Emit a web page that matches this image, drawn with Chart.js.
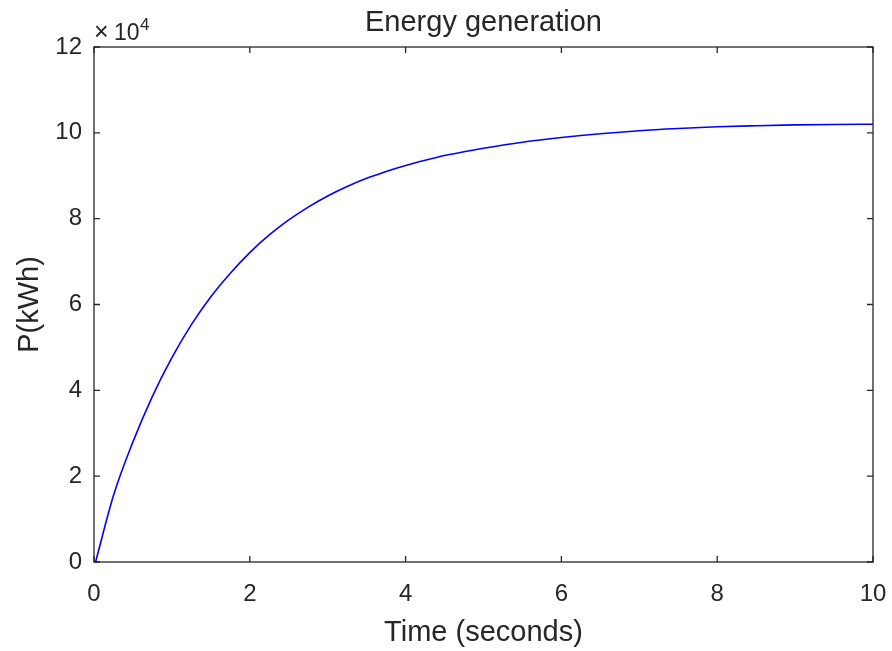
<!DOCTYPE html>
<html>
<head>
<meta charset="utf-8">
<script src="https://cdn.jsdelivr.net/npm/chart.js@4"></script>
<style>
  html, body { margin: 0; padding: 0; background: #fff; }
  #wrap { width: 892px; height: 651px; }
</style>
</head>
<body>
<div id="wrap"><canvas id="grafico" width="892" height="651"></canvas></div>
<script>
// tempo (s) e energia (kWh)
var tempo = [0.02, 0.25, 0.5, 0.75, 1.0, 1.25, 1.5, 1.75, 2.0, 2.25, 2.5, 2.75, 3.0, 3.25, 3.5, 3.75,
             4.0, 4.25, 4.5, 4.75, 5.0, 5.5, 6.0, 6.5, 7.0, 7.5, 8.0, 8.5, 9.0, 9.5, 10.0];
var energia = [0, 15500, 28000, 38600, 47600, 55300, 61800, 67300, 72100, 76200, 79700, 82700, 85300,
               87500, 89400, 91000, 92400, 93600, 94700, 95600, 96400, 97800, 98900, 99800, 100500,
               101000, 101400, 101650, 101850, 101950, 102000];
var ticksX = [0, 2, 4, 6, 8, 10];
var ticksY = [0, 20000, 40000, 60000, 80000, 100000, 120000];
var titulo = 'Energy generation';

var corEixo = '#262626';
var fonte = 'Arial, "Liberation Sans", Helvetica, sans-serif';

var pontos = tempo.map(function (t, i) {
    return { x: t, y: energia[i] };
});

// caixa dos eixos com marcas para dentro (estilo MATLAB), título e o "x10^4"
var caixaPlugin = {
    id: 'caixa',
    afterDraw: function (chart) {
        var ctx = chart.ctx;
        var a = chart.chartArea;
        var sx = chart.scales.x, sy = chart.scales.y;
        ctx.save();
        ctx.strokeStyle = corEixo;
        ctx.lineWidth = 1.3;
        ctx.strokeRect(a.left, a.top, a.right - a.left, a.bottom - a.top);
        var tam = 6;
        ctx.beginPath();
        ticksX.forEach(function (v) {
            var px = sx.getPixelForValue(v);
            ctx.moveTo(px, a.bottom); ctx.lineTo(px, a.bottom - tam);
            ctx.moveTo(px, a.top); ctx.lineTo(px, a.top + tam);
        });
        ticksY.forEach(function (v) {
            var py = sy.getPixelForValue(v);
            ctx.moveTo(a.left, py); ctx.lineTo(a.left + tam, py);
            ctx.moveTo(a.right, py); ctx.lineTo(a.right - tam, py);
        });
        ctx.stroke();

        ctx.fillStyle = corEixo;
        ctx.textBaseline = 'alphabetic';

        // título centrado sobre a área do gráfico
        ctx.textAlign = 'center';
        ctx.font = '29px ' + fonte;
        ctx.fillText(titulo, (a.left + a.right) / 2, 31);

        // multiplicador do eixo y
        ctx.textAlign = 'left';
        ctx.font = '25px ' + fonte;
        ctx.fillText('\u00d7', a.left, a.top - 7);
        ctx.font = '23px ' + fonte;
        ctx.fillText('10', a.left + 20, a.top - 7);
        ctx.font = '17px ' + fonte;
        ctx.fillText('4', a.left + 46, a.top - 17);
        ctx.restore();
    }
};

var ctx = document.getElementById('grafico').getContext('2d');

var grafico = new Chart(ctx, {
    type: 'line',
    data: {
        datasets: [{
            label: 'P',
            data: pontos,
            borderColor: '#0000ff',
            borderWidth: 1.6,
            pointRadius: 0,
            cubicInterpolationMode: 'monotone',
            fill: false
        }]
    },
    options: {
        responsive: false,
        animation: false,
        layout: { padding: { top: 47, right: 19, bottom: 0, left: 0 } },
        plugins: {
            legend: { display: false },
            tooltip: { enabled: false },
            title: { display: false }
        },
        scales: {
            x: {
                type: 'linear',
                min: 0,
                max: 10,
                afterBuildTicks: function (s) { s.ticks = ticksX.map(function (v) { return { value: v }; }); },
                afterFit: function (s) { s.height = 89; s.paddingLeft = 0; s.paddingRight = 0; },
                grid: { display: false, drawTicks: false },
                border: { display: false },
                ticks: {
                    color: corEixo,
                    padding: 18,
                    maxRotation: 0,
                    font: { family: fonte, size: 24 }
                },
                title: {
                    display: true,
                    text: 'Time (seconds)',
                    color: corEixo,
                    font: { family: fonte, size: 29 },
                    padding: { top: 0, bottom: 1 }
                }
            },
            y: {
                type: 'linear',
                min: 0,
                max: 120000,
                afterBuildTicks: function (s) { s.ticks = ticksY.map(function (v) { return { value: v }; }); },
                afterFit: function (s) { s.width = 94; s.paddingTop = 0; s.paddingBottom = 0; },
                grid: { display: false, drawTicks: false },
                border: { display: false },
                ticks: {
                    color: corEixo,
                    padding: 12,
                    font: { family: fonte, size: 24 },
                    callback: function (v) { return v / 10000; }
                },
                title: {
                    display: true,
                    text: 'P(kWh)',
                    color: corEixo,
                    font: { family: fonte, size: 29 },
                    padding: { top: 13, bottom: 0 }
                }
            }
        }
    },
    plugins: [caixaPlugin]
});
</script>
</body>
</html>
